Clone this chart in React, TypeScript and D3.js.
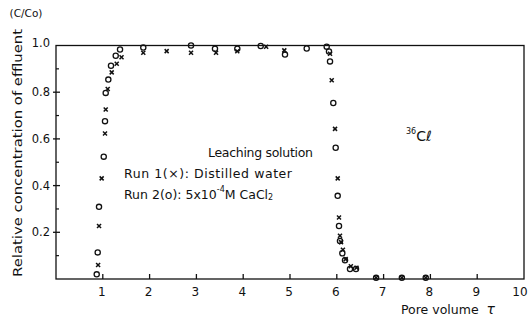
import React from "react";
import * as d3 from "d3";

// Run 1 (x): distilled water  [pore volume, C/Co]
const run1Points: [number, number][] = [
  [0.9, 0.06], [0.92, 0.227], [0.976, 0.431], [1.047, 0.623], [1.062, 0.726],
  [1.105, 0.814], [1.19, 0.885], [1.297, 0.922], [1.4, 0.95],
  [1.865, 0.969], [2.365, 0.976], [2.885, 0.969], [3.42, 0.969], [3.874, 0.975],
  [4.49, 0.995], [4.878, 0.979], [5.855, 0.965],
  [5.891, 0.851], [5.962, 0.643], [6.019, 0.431], [6.047, 0.263], [6.068, 0.185],
  [6.09, 0.158], [6.13, 0.125], [6.19, 0.085], [6.3, 0.055], [6.42, 0.048],
  [6.84, 0.005], [7.39, 0.005], [7.9, 0.005],
];

// Run 2 (o): 5x10^-4 M CaCl2
const run2Points: [number, number][] = [
  [0.87, 0.02], [0.891, 0.114], [0.919, 0.309], [1.02, 0.524], [1.047, 0.676],
  [1.062, 0.797], [1.118, 0.854], [1.175, 0.913], [1.276, 0.956], [1.368, 0.983],
  [1.865, 0.991], [2.885, 1.0], [3.397, 0.986], [3.874, 0.986], [4.374, 0.998],
  [4.893, 0.961], [5.357, 0.987], [5.784, 0.995],
  [5.833, 0.974], [5.855, 0.932], [5.925, 0.754], [5.976, 0.562], [6.019, 0.356],
  [6.047, 0.227], [6.068, 0.163], [6.118, 0.11], [6.175, 0.08], [6.282, 0.043],
  [6.41, 0.043],
  [6.84, 0.005], [7.39, 0.005], [7.9, 0.005],
];

const xTicks = [1, 2, 3, 4, 5, 6, 7, 8, 9, 10];
const yTicks = [0.2, 0.4, 0.6, 0.8, 1.0];
const yMinorTicks = [0.1, 0.3, 0.5, 0.7, 0.9];

const font = "'DejaVu Sans', sans-serif";

export default function App() {
  const width = 531;
  const height = 321;

  const x = d3.scaleLinear().domain([0, 10]).range([56, 524]);
  const y = d3.scaleLinear().domain([0, 1]).range([279, 45.5]);

  const ink = "#111";

  return (
    <svg
      width={width}
      height={height}
      style={{ position: "absolute", left: 0, top: 0, background: "#fff" }}
    >
      {/* frame */}
      <rect
        x={x(0)}
        y={y(1)}
        width={x(10) - x(0)}
        height={y(0) - y(1)}
        fill="none"
        stroke={ink}
        strokeWidth={1.3}
      />

      {/* x ticks */}
      {xTicks.map((t) => (
        <g key={"xt" + t}>
          {t < 10 && (
            <line x1={x(t)} x2={x(t)} y1={y(0)} y2={y(0) - 5} stroke={ink} strokeWidth={1.3} />
          )}
          <text
            x={x(t) - (t === 10 ? 4 : 1)}
            y={292}
            textAnchor="middle"
            dominantBaseline="central"
            fontFamily={font}
            fontSize={12}
            fill={ink}
          >
            {t}
          </text>
        </g>
      ))}

      {/* y ticks */}
      {yTicks.map((t) => (
        <g key={"yt" + t}>
          {t < 1 && (
            <line x1={x(0) - 3} x2={x(0) + 4} y1={y(t)} y2={y(t)} stroke={ink} strokeWidth={1.3} />
          )}
          <text
            x={50}
            y={t === 1 ? y(t) - 3 : y(t)}
            textAnchor="end"
            dominantBaseline="central"
            fontFamily={font}
            fontSize={11.5}
            fill={ink}
          >
            {t.toFixed(1)}
          </text>
        </g>
      ))}
      {yMinorTicks.map((t) => (
        <line key={"ym" + t} x1={x(0)} x2={x(0) + 3} y1={y(t)} y2={y(t)} stroke={ink} strokeWidth={1.2} />
      ))}

      {/* axis titles */}
      <text x={26} y={13} textAnchor="middle" dominantBaseline="central" fontFamily={font} fontSize={10.5} fill={ink}>
        (C/Co)
      </text>
      <text
        transform="translate(17,153) rotate(-90)"
        textAnchor="middle"
        dominantBaseline="central"
        fontFamily={font}
        fontSize={13}
        textLength={248}
        lengthAdjust="spacingAndGlyphs"
        fill={ink}
      >
        Relative concentration of effluent
      </text>
      <text x={401} y={309} dominantBaseline="central" fontFamily={font} fontSize={12.5} fill={ink}>
        Pore volume
        <tspan dx={8} fontStyle="italic" fontSize={14}>τ</tspan>
      </text>

      {/* annotations */}
      <text x={208} y={152} dominantBaseline="central" fontFamily={font} fontSize={12.5} textLength={105} fill={ink}>
        Leaching solution
      </text>
      <text x={124} y={173} dominantBaseline="central" fontFamily={font} fontSize={12.5} textLength={168} fill={ink}>
        Run 1(×): Distilled water
      </text>
      <text x={124} y={194} dominantBaseline="central" fontFamily={font} fontSize={12.5} fill={ink}>
        Run 2(o): 5x10
        <tspan dy={-5} fontSize={8}>-4</tspan>
        <tspan dy={5}>M CaCl</tspan>
        <tspan dy={3} fontSize={8}>2</tspan>
      </text>
      <text x={406} y={136} dominantBaseline="central" fontFamily={font} fontSize={14} fill={ink}>
        <tspan dy={-5} fontSize={8}>36</tspan>
        <tspan dy={5}>C</tspan>
        <tspan fontStyle="italic">ℓ</tspan>
      </text>

      {/* Run 2 circles */}
      {run2Points.map(([px, py], i) => (
        <circle key={"c" + i} cx={x(px)} cy={y(py)} r={2.6} fill="none" stroke={ink} strokeWidth={1.3} />
      ))}

      {/* Run 1 crosses */}
      {run1Points.map(([px, py], i) => {
        const cx = x(px);
        const cy = y(py);
        const s = 2;
        return (
          <g key={"x" + i} stroke={ink} strokeWidth={1.5}>
            <line x1={cx - s} y1={cy - s} x2={cx + s} y2={cy + s} />
            <line x1={cx - s} y1={cy + s} x2={cx + s} y2={cy - s} />
          </g>
        );
      })}
    </svg>
  );
}
